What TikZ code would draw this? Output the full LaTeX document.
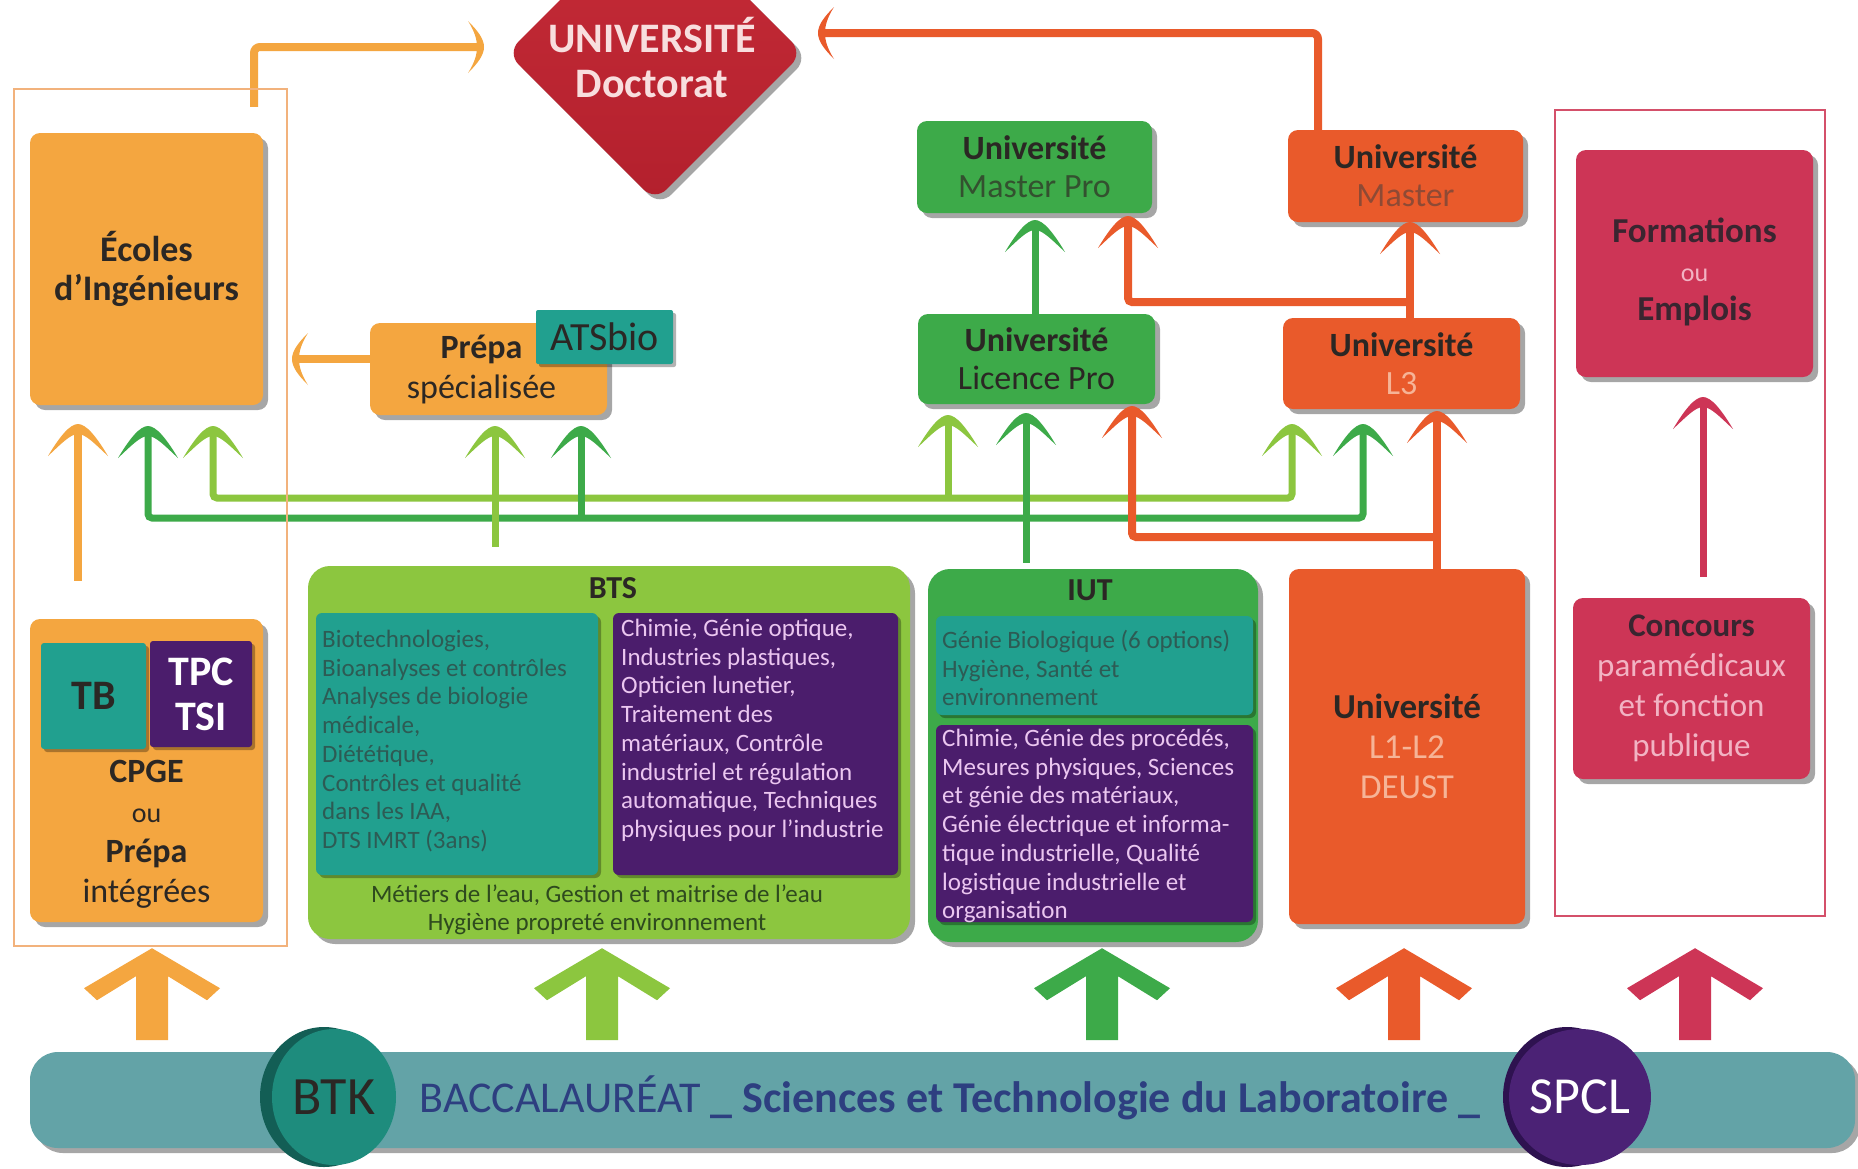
\documentclass[tikz,border=0pt]{standalone}
\usepackage{fontspec}
\setmainfont{Carlito}
\usetikzlibrary{shapes.geometric,shadows,calc}
\definecolor{corange}{HTML}{F4A640}
\definecolor{cframeO}{HTML}{F2B27C}
\definecolor{cgreenL}{HTML}{8CC63F}
\definecolor{cgreenD}{HTML}{3DAA49}
\definecolor{cred}{HTML}{E95A2B}
\definecolor{ccrim}{HTML}{CD3556}
\definecolor{cframeC}{HTML}{D4506A}
\definecolor{cdoc}{HTML}{B3202D}
\definecolor{cdoctop}{HTML}{C62C38}
\definecolor{cteal}{HTML}{21A08F}
\definecolor{cpurple}{HTML}{4B1D6C}
\definecolor{cbanner}{HTML}{63A3A7}
\definecolor{cbtk}{HTML}{1E8C7D}
\definecolor{cbtkdark}{HTML}{135E55}
\definecolor{cspcl}{HTML}{4B2275}
\definecolor{cspcldark}{HTML}{2E1250}
\definecolor{cbantext}{HTML}{2D3F80}
\definecolor{txtdark}{HTML}{2B2724}
\definecolor{txtteal}{HTML}{2D5B54}
\definecolor{txtpurple}{HTML}{EBC6F0}
\definecolor{txtdoc}{HTML}{F8DEDE}
\definecolor{subgreen}{HTML}{33512F}
\definecolor{subred}{HTML}{F6B497}
\definecolor{submaster}{HTML}{8E4A35}
\definecolor{subcrim}{HTML}{F2B3C3}
\definecolor{txtcrim}{HTML}{3A2530}
\definecolor{txtfoot}{HTML}{2E4A1E}
\newcommand{\fsz}[2]{\fontsize{#1}{#2}\selectfont}
\pgfdeclarelayer{bg}
\pgfdeclarelayer{lines}
\pgfsetlayers{bg,lines,main}
\begin{document}
\begin{tikzpicture}[x=1pt,y=-1pt,
  shadowbig/.style={drop shadow={shadow xshift=5pt,shadow yshift=-5pt,opacity=0.35,fill=black}},
  shadowsmall/.style={drop shadow={shadow xshift=3pt,shadow yshift=-3pt,opacity=0.3,fill=black}},
  box/.style={rounded corners=10,inner sep=0,align=center,text=txtdark,shadowbig},
  subbox/.style={rounded corners=6,inner sep=0,shadowsmall},
  smalltext/.style={font=\fsz{25}{28.7},align=left,inner sep=0,anchor=north west},
  lgline/.style={line width=7,draw=cgreenL},
  dgline/.style={line width=7,draw=cgreenD},
  orline/.style={line width=8,draw=corange},
  rdline/.style={line width=8,draw=cred},
  crline/.style={line width=7,draw=ccrim},
  pics/chevup/.style={code={\fill[#1] (-30,26) .. controls (-18,6) and (-8,-6) .. (0,-6) .. controls (8,-6) and (18,6) .. (30,26) .. controls (18,15) and (8,4) .. (0,4) .. controls (-8,4) and (-18,15) .. (-30,26) -- cycle;}},
  pics/chevright/.style={code={\fill[#1] (-10,-26) .. controls (0,-16) and (6,-8) .. (6,0) .. controls (6,8) and (0,16) .. (-10,26) .. controls (-3,15) and (-1,7) .. (-1,0) .. controls (-1,-7) and (-3,-15) .. (-10,-26) -- cycle;}},
  pics/chevleft/.style={code={\fill[#1] (10,-26) .. controls (0,-16) and (-6,-8) .. (-6,0) .. controls (-6,8) and (0,16) .. (10,26) .. controls (3,15) and (1,7) .. (1,0) .. controls (1,-7) and (3,-15) .. (10,-26) -- cycle;}},
  pics/bigarrow/.style={code={\fill[#1] (0,0) -- (68,40) -- (55,52) -- (16,28) -- (16,92) -- (-16,92) -- (-16,28) -- (-55,52) -- (-68,40) -- cycle;}}
]
\useasboundingbox (0,0) rectangle (1858,1168);
\begin{pgfonlayer}{bg}
\fill[white] (0,0) rectangle (1858,1168);
\end{pgfonlayer}
\clip (0,0) rectangle (1858,1168);

% ---------- tips and helper coordinates ----------
\coordinate (tE1) at (78,430);
\coordinate (tE2) at (148,432);
\coordinate (tE3) at (213,432);
\coordinate (tP1) at (495,432);
\coordinate (tP2) at (581,432);
\coordinate (tL1) at (948,421);
\coordinate (tL2) at (1026,419);
\coordinate (tL3) at (1132,412);
\coordinate (t31) at (1292,430);
\coordinate (t32) at (1363,430);
\coordinate (t33) at (1437,417);
\coordinate (tM1) at (1035,226);
\coordinate (tM2) at (1128,222);
\coordinate (tM3) at (1410,228);
\coordinate (tF) at (1703,403);
\coordinate (tDocL) at (478,47);
\coordinate (tDocR) at (824,33);
\coordinate (tEc) at (298,359);
\coordinate (yM) at (0,302);
\coordinate (yLG) at (0,498);
\coordinate (yDG) at (0,518);
\coordinate (yOR) at (0,537);

% ---------- frames ----------
\node[draw=cframeO,line width=2.5,minimum width=273,minimum height=857,inner sep=0] (frameL) at (150.5,517.5) {};
\node[draw=cframeC,line width=2.5,minimum width=270,minimum height=806,inner sep=0] (frameR) at (1690,513) {};

% ---------- doctorat ----------
\node[diamond,minimum width=296,minimum height=296,inner sep=0,rounded corners=16,top color=cdoctop,bottom color=cdoc,shadowbig] (doc) at (655,53) {};
\node[font=\fsz{42}{45}\bfseries,text=txtdoc,align=center] (doctxt) at (652,58) {UNIVERSITÉ\\Doctorat};

% ---------- upper boxes ----------
\node[box,fill=corange,minimum width=233,minimum height=272,font=\fsz{36}{39}\bfseries] (ecoles) at (146.5,269) {Écoles\\d’Ingénieurs};
\node[box,fill=corange,minimum width=237,minimum height=92,font=\fsz{34}{40}] (prepa) at (488.5,369) {\hspace*{-14pt}\textbf{Prépa}\\\hspace*{-14pt}spécialisée};
\node[subbox,rounded corners=2,fill=cteal,minimum width=137,minimum height=54,font=\fsz{40}{40},text=txtdark] (ats) at (604.5,337) {ATSbio};
\node[box,fill=cgreenD,minimum width=235,minimum height=92,font=\fsz{34}{38}] (mpro) at (1034.5,167) {\textbf{Université}\\\textcolor{subgreen}{Master Pro}};
\node[box,fill=cred,minimum width=235,minimum height=92,font=\fsz{34}{38}] (master) at (1405.5,176) {\textbf{Université}\\\textcolor{submaster}{Master}};
\node[box,fill=cgreenD,minimum width=237,minimum height=90,font=\fsz{34}{38}] (lpro) at (1036.5,359) {\textbf{Université}\\\textcolor{txtdark}{Licence Pro}};
\node[box,fill=cred,minimum width=237,minimum height=91,font=\fsz{34}{38}] (l3) at (1401.5,363.5) {\textbf{Université}\\\textcolor{subred}{L3}};
\node[box,fill=ccrim,minimum width=237,minimum height=227,inner sep=0,text=txtcrim] (form) at (1694.5,263.5) {};
\node[font=\fsz{35}{39},text=txtcrim,align=center] (formtxt) at (1694.5,272) {\textbf{Formations}\\{\fsz{26}{39}\textcolor{subcrim}{ou}}\\\textbf{Emplois}};

% ---------- lower boxes ----------
\node[box,fill=corange,minimum width=233,minimum height=303] (cpge) at (146.5,770.5) {};
\node[subbox,rounded corners=3,fill=cteal,minimum width=105,minimum height=106,font=\fsz{42}{45}\bfseries,text=txtdark] (tb) at (93.5,696) {TB};
\node[subbox,rounded corners=3,fill=cpurple,minimum width=102,minimum height=106,font=\fsz{42}{45}\bfseries,text=white,align=center] (tpc) at (201,694) {TPC\\TSI};
\node[font=\fsz{34}{40},text=txtdark,align=center] (cpgetxt) at (146.5,834) {\textbf{CPGE}\\{\fsz{28}{40}ou}\\\textbf{Prépa}\\intégrées};

\node[box,rounded corners=22,fill=cgreenL,minimum width=602,minimum height=373] (bts) at (609,752.5) {};
\node[font=\fsz{32}{32}\bfseries,text=txtdark] (btstitle) at (613,588) {BTS};
\node[subbox,fill=cteal,minimum width=282,minimum height=262] (btsA) at (457,744) {};
\node[subbox,fill=cpurple,minimum width=285,minimum height=262] (btsB) at (755.5,744) {};
\node[smalltext,text=txtteal] (btsAtxt) at (322,630) {Biotechnologies,\\Bioanalyses et contrôles\\Analyses de biologie\\médicale,\\Diététique,\\Contrôles et qualité\\dans les IAA,\\DTS IMRT (3ans)};
\node[smalltext,text=txtpurple] (btsBtxt) at (621,619) {Chimie, Génie optique,\\Industries plastiques,\\Opticien lunetier,\\Traitement des\\matériaux, Contrôle\\industriel et régulation\\automatique, Techniques\\physiques pour l’industrie};
\node[font=\fsz{25}{27.5},text=txtfoot,align=center] (btsfoot) at (597,910) {Métiers de l’eau, Gestion et maitrise de l’eau\\Hygiène propreté environnement};

\node[box,rounded corners=22,fill=cgreenD,minimum width=330,minimum height=373] (iut) at (1093,755.5) {};
\node[font=\fsz{32}{32}\bfseries,text=txtdark] (iuttitle) at (1090,590) {IUT};
\node[subbox,fill=cteal,minimum width=317,minimum height=99] (iutA) at (1094.5,665.5) {};
\node[subbox,fill=cpurple,minimum width=317,minimum height=197] (iutB) at (1094.5,823.5) {};
\node[smalltext,text=txtteal] (iutAtxt) at (942,630) {Génie Biologique (6 options)\\Hygiène, Santé et\\environnement};
\node[smalltext,text=txtpurple] (iutBtxt) at (942,729) {Chimie, Génie des procédés,\\Mesures physiques, Sciences\\et génie des matériaux,\\Génie électrique et informa-\\tique industrielle, Qualité\\logistique industrielle et\\organisation};

\node[box,fill=cred,minimum width=236,minimum height=355,font=\fsz{35}{40}] (l12) at (1407,746.5) {\textbf{Université}\\\textcolor{subred}{L1-L2}\\\textcolor{subred}{DEUST}};
\node[box,fill=ccrim,minimum width=237,minimum height=181,font=\fsz{33}{40},text=txtcrim] (conc) at (1691.5,688.5) {\textbf{Concours}\\\textcolor{subcrim}{paramédicaux}\\\textcolor{subcrim}{et fonction}\\\textcolor{subcrim}{publique}};

% ---------- connectors ----------
\begin{pgfonlayer}{lines}
\draw[orline,rounded corners=6] ($(ecoles.north)+(107.5,-26)$) |- (tDocL);
\draw[rdline,rounded corners=6] ($(master.north)+(-87.5,0)$) |- (tDocR);
\draw[orline] (prepa.west |- tEc) -- (tEc);
\draw[dgline] (lpro.north -| tM1) -- (tM1);
\draw[rdline] (l3.north -| tM3) -- (tM3);
\draw[rdline,rounded corners=4] (tM3 |- yM) -| (tM2);
\draw[orline] ($(cpge.north -| tE1)+(0,-38)$) -- (tE1);
\draw[lgline,rounded corners=4] (tE3) -- (tE3 |- yLG) -- (t31 |- yLG) -- (t31);
\draw[dgline,rounded corners=4] (tE2) -- (tE2 |- yDG) -- (t32 |- yDG) -- (t32);
\draw[rdline,rounded corners=4] (t33 |- yOR) -- (tL3 |- yOR) -- (tL3);
\draw[lgline] ($(bts.north -| tP1)+(0,-19)$) -- (tP1);
\draw[lgline] (tL1 |- yLG) -- (tL1);
\draw[dgline] (tP2 |- yDG) -- (tP2);
\draw[dgline] ($(iut.north -| tL2)+(0,-6)$) -- (tL2);
\draw[rdline] (l12.north -| t33) -- (t33);
\draw[crline] ($(conc.north -| tF)+(0,-21)$) -- (tF);
\end{pgfonlayer}

% ---------- chevrons ----------
\pic at (tE1) {chevup=corange};
\pic at (tE2) {chevup=cgreenD};
\pic at (tE3) {chevup=cgreenL};
\pic at (tP1) {chevup=cgreenL};
\pic at (tP2) {chevup=cgreenD};
\pic at (tL1) {chevup=cgreenL};
\pic at (tL2) {chevup=cgreenD};
\pic at (tL3) {chevup=cred};
\pic at (t31) {chevup=cgreenL};
\pic at (t32) {chevup=cgreenD};
\pic at (t33) {chevup=cred};
\pic at (tM1) {chevup=cgreenD};
\pic at (tM2) {chevup=cred};
\pic at (tM3) {chevup=cred};
\pic at (tF) {chevup=ccrim};
\pic at (tDocL) {chevright=corange};
\pic at (tDocR) {chevleft=cred};
\pic at (tEc) {chevleft=corange};

% ---------- big arrows ----------
\pic at ($(cpge.south)+(5.5,26)$) {bigarrow=corange};
\pic at ($(bts.south)+(-7,9)$) {bigarrow=cgreenL};
\pic at ($(iut.south)+(9,6)$) {bigarrow=cgreenD};
\pic at ($(l12.south)+(-3,24)$) {bigarrow=cred};
\pic at ($(conc.south)+(3.5,169)$) {bigarrow=ccrim};

% ---------- banner ----------
\node[fill=cbanner,rounded corners=28,minimum width=1825,minimum height=96,inner sep=0,shadowbig] (banner) at (942.5,1100) {};
\node[text=cbantext,font=\fsz{44}{48}] (bantxt) at (950,1098) {BACCALAURÉAT \textbf{\_ Sciences et Technologie du Laboratoire \_}};
\fill[cbtkdark] (324,1097) ellipse [x radius=64,y radius=70];
\node[ellipse,fill=cbtk,minimum width=124,minimum height=136,inner sep=0,font=\fsz{54}{54},text=txtdark] (btk) at (334,1097) {BTK};
\fill[cspcldark] (1567,1097) ellipse [x radius=64,y radius=70];
\node[ellipse,fill=cspcl,minimum width=124,minimum height=136,inner sep=0,font=\fsz{52}{52},text=white] (spcl) at (1580,1097) {SPCL};
\end{tikzpicture}
\end{document}
